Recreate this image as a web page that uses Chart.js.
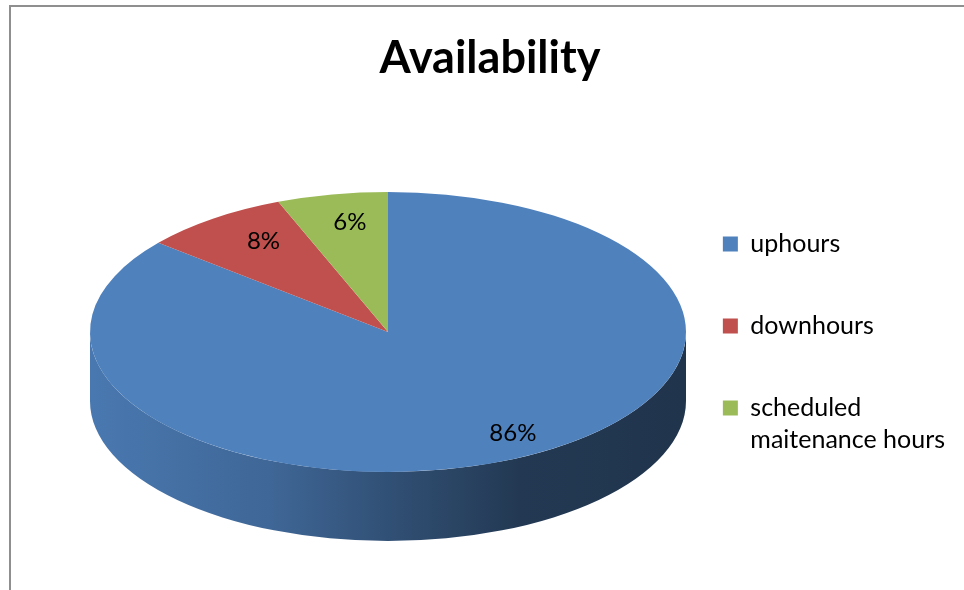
<!DOCTYPE html>
<html>
<head>
<meta charset="utf-8">
<script src="https://cdn.jsdelivr.net/npm/chart.js@4"></script>
<style>
  html, body { margin: 0; padding: 0; background: #fff; }
  #cadre { position: relative; width: 964px; height: 590px; overflow: hidden; }
  /* gray frame, only top and left edges show */
  #cadre::before {
    content: ""; position: absolute; left: 9px; top: 5px; right: -10px; bottom: -10px;
    border-left: 2px solid #8f8f8f; border-top: 2px solid #8f8f8f;
  }
  canvas { position: absolute; left: 0; top: 0; }
</style>
</head>
<body>
<div id="cadre"><canvas id="graphique-dispo" width="964" height="590"></canvas></div>
<script>
const titre = "Availability";
const categories = ["uphours", "downhours", ["scheduled", "maitenance hours"]];
const heures = [86, 8, 6];
const couleurs = ["#4F81BD", "#C0504D", "#9BBB59"];

const police = "Lato, 'Open Sans', sans-serif";

// darken a hex color by factor k
function assombrir(hex, k) {
  const n = parseInt(hex.slice(1), 16);
  const r = Math.round(((n >> 16) & 255) * k);
  const g = Math.round(((n >> 8) & 255) * k);
  const b = Math.round((n & 255) * k);
  return `rgb(${r}, ${g}, ${b})`;
}

// tilted pie: draws the rim, then squeezes the library arcs into an ellipse
const camembert3d = {
  id: "camembert3d",
  beforeDatasetsDraw(chart, args, opts) {
    const ctx = chart.ctx;
    const arcs = chart.getDatasetMeta(0).data;
    const { cx, cy, rx, ry, depth } = opts;

    // rim (only the front half is visible)
    arcs.forEach((arc, i) => {
      const { startAngle, endAngle } = arc.getProps(["startAngle", "endAngle"], true);
      for (const k of [-2 * Math.PI, 0, 2 * Math.PI]) {
        const a0 = Math.max(startAngle + k, 0);
        const a1 = Math.min(endAngle + k, Math.PI);
        if (a1 <= a0) continue;
        const grad = ctx.createLinearGradient(cx - rx, 0, cx + rx, 0);
        grad.addColorStop(0, assombrir(couleurs[i], 0.93));
        grad.addColorStop(0.3, assombrir(couleurs[i], 0.8));
        grad.addColorStop(0.5, assombrir(couleurs[i], 0.62));
        grad.addColorStop(0.72, assombrir(couleurs[i], 0.44));
        grad.addColorStop(1, assombrir(couleurs[i], 0.4));
        ctx.beginPath();
        ctx.ellipse(cx, cy, rx, ry, 0, a0, a1);
        ctx.ellipse(cx, cy + depth, rx, ry, 0, a1, a0, true);
        ctx.closePath();
        ctx.fillStyle = grad;
        ctx.fill();
      }
    });

    // top face
    const ref = arcs[0];
    const r = ref.outerRadius;
    ctx.save();
    ctx.translate(cx, cy);
    ctx.scale(rx / r, ry / r);
    ctx.translate(-ref.x, -ref.y);
  },
  afterDatasetsDraw(chart, args, opts) {
    const ctx = chart.ctx;
    ctx.restore();

    // percentage labels, pushed outward at the front and inward at the back
    const { cx, cy, rx, ry, labelPos, perspective } = opts;
    const arcs = chart.getDatasetMeta(0).data;
    const total = heures.reduce((a, b) => a + b, 0);
    ctx.save();
    ctx.fillStyle = "#000";
    ctx.font = `24px ${police}`;
    ctx.textAlign = "center";
    ctx.textBaseline = "middle";
    arcs.forEach((arc, i) => {
      const { startAngle, endAngle } = arc.getProps(["startAngle", "endAngle"], true);
      const mid = (startAngle + endAngle) / 2;
      const fx = 0.84 * (1 + perspective * Math.sin(mid));
      const x = cx + rx * fx * Math.cos(mid);
      const y = cy + ry * labelPos * Math.sin(mid);
      ctx.fillText(Math.round(heures[i] / total * 100) + "%", x, y);
    });
    ctx.restore();
  }
};

new Chart(document.querySelector("#graphique-dispo"), {
  type: "pie",
  data: {
    labels: categories,
    datasets: [{
      data: heures,
      backgroundColor: couleurs,
      borderWidth: 0,
      clip: false
    }]
  },
  options: {
    responsive: false,
    animation: false,
    layout: { padding: { left: 25, right: 9, top: 0, bottom: 0 } },
    plugins: {
      title: {
        display: true,
        text: titre,
        color: "#000",
        font: { family: police, size: 45, weight: "bold", lineHeight: 1.2 },
        padding: { top: 31, bottom: 16 }
      },
      legend: {
        position: "right",
        align: "center",
        fullSize: false,
        labels: {
          color: "#000",
          boxWidth: 15,
          boxHeight: 15,
          padding: 57,
          font: { family: police, size: 25, lineHeight: 1.28 }
        }
      },
      tooltip: { enabled: false },
      camembert3d: { cx: 388, cy: 332, rx: 298, ry: 140, depth: 69, labelPos: 0.8, perspective: 0.19 }
    }
  },
  plugins: [camembert3d]
});
</script>
</body>
</html>
